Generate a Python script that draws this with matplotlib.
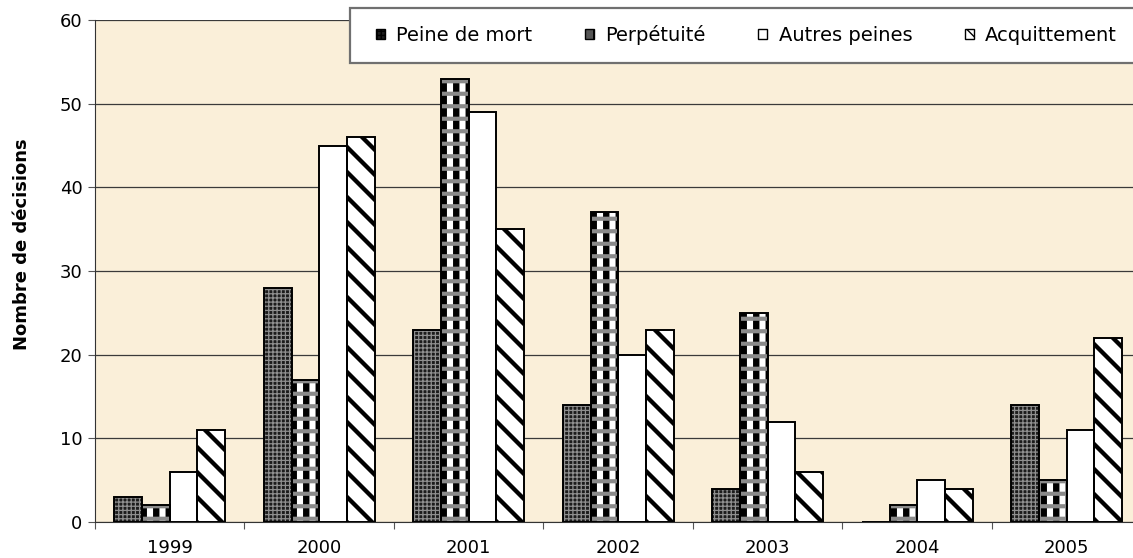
import numpy as np
import matplotlib
matplotlib.use('Agg')
import matplotlib.pyplot as plt
from matplotlib.patches import Patch, Rectangle
from matplotlib.backend_bases import GraphicsContextBase

# decisions per year and outcome
years = ['1999', '2000', '2001', '2002', '2003', '2004', '2005']
peine_de_mort = [3, 28, 23, 14, 4, 0, 14]
perpetuite = [2, 17, 53, 37, 25, 2, 5]
autres_peines = [6, 45, 49, 20, 12, 5, 11]
acquittement = [11, 46, 35, 23, 6, 4, 22]
labels = ['Peine de mort', 'Perpétuité', 'Autres peines', 'Acquittement']

plt.rcParams['font.family'] = 'DejaVu Sans'

# a bit tighter hatch spacing than the default 6 lines per inch
_hatch_path = GraphicsContextBase.get_hatch_path
GraphicsContextBase.get_hatch_path = lambda self, density=8: _hatch_path(self, density)

fig = plt.figure(figsize=(11.33, 5.58), dpi=100)
fig.patch.set_facecolor('white')
ax = fig.add_axes([0.0838, 0.0645, 0.9237, 0.8996])
ax.set_facecolor('#FAEFD9')

x = np.arange(len(years))
w = 0.185
offs = np.array([-1.5, -0.5, 0.5, 1.5]) * w


def hatched(xpos, vals, face, hatch, hcolor, hlw, z=2):
    b = ax.bar(xpos, vals, w, color=face, edgecolor=hcolor, hatch=hatch,
               linewidth=0, zorder=z)
    for p in b:
        if hasattr(p, 'set_hatch_linewidth'):
            p.set_hatch_linewidth(hlw)
    return b


# Peine de mort : dark stipple
hatched(x + offs[0], peine_de_mort, '#1c1c1c', '+++', '#8f8f8f', 0.9)
# Perpetuite : black columns crossed by grey bands
hatched(x + offs[1], perpetuite, 'white', '|', 'black', 4.6)
hatched(x + offs[1], perpetuite, 'none', '-', '#8a8a8a', 3.0, z=2.1)
# Autres peines : plain white
ax.bar(x + offs[2], autres_peines, w, color='white', linewidth=0, zorder=2)
# Acquittement : wide diagonal stripes
hatched(x + offs[3], acquittement, 'white', '\\', 'black', 3.1)

# outlines on top
for o, vals in zip(offs, [peine_de_mort, perpetuite, autres_peines, acquittement]):
    ax.bar(x + o, vals, w, fill=False, edgecolor='black', linewidth=1.4, zorder=3)

ax.set_xlim(-0.5, len(years) - 0.5)
ax.set_ylim(0, 60)
ax.set_yticks(range(0, 61, 10))
ax.yaxis.grid(True, color='#3a3a3a', linewidth=0.9, zorder=0)
ax.set_axisbelow(True)

ax.set_xticks(np.arange(len(years) + 1) - 0.5)
ax.set_xticklabels([])
ax.set_xticks(x, minor=True)
ax.set_xticklabels(years, minor=True)
ax.tick_params(axis='x', which='major', direction='out', length=5, color='#555555')
ax.tick_params(axis='x', which='minor', length=0, pad=12, labelsize=13)
ax.tick_params(axis='y', direction='out', length=5, pad=4, labelsize=13, color='#555555')

for s in ['top', 'right']:
    ax.spines[s].set_visible(False)
ax.spines['left'].set_color('#333333')
ax.spines['bottom'].set_color('#333333')

fig.text(0.0195, 0.563, 'Nombre de décisions', rotation=90, ha='center', va='center',
         fontsize=13, fontweight='bold')

# legend box, drawn across the top right and running off the edge
fig.patches.append(Rectangle((350 / 1133, 1 - 63 / 558), 800 / 1133, 55 / 558,
                             transform=fig.transFigure, facecolor='white',
                             edgecolor='#707070', linewidth=1.6, zorder=5))
handles = [
    Patch(facecolor='#1c1c1c', edgecolor='black', hatch='+++', linewidth=1),
    Patch(facecolor='#555555', edgecolor='black', hatch='|', linewidth=1),
    Patch(facecolor='white', edgecolor='black', linewidth=1),
    Patch(facecolor='white', edgecolor='black', hatch='\\\\', linewidth=1),
]
leg = fig.legend(handles, labels, ncol=4, loc='center left',
                 bbox_to_anchor=(376 / 1133, 1 - 35 / 558),
                 fontsize=14, handlelength=0.45, handleheight=0.45,
                 handletextpad=0.6, columnspacing=2.7, borderpad=0,
                 borderaxespad=0, frameon=False)
leg.set_zorder(6)

fig.savefig('out.png', dpi=100)
